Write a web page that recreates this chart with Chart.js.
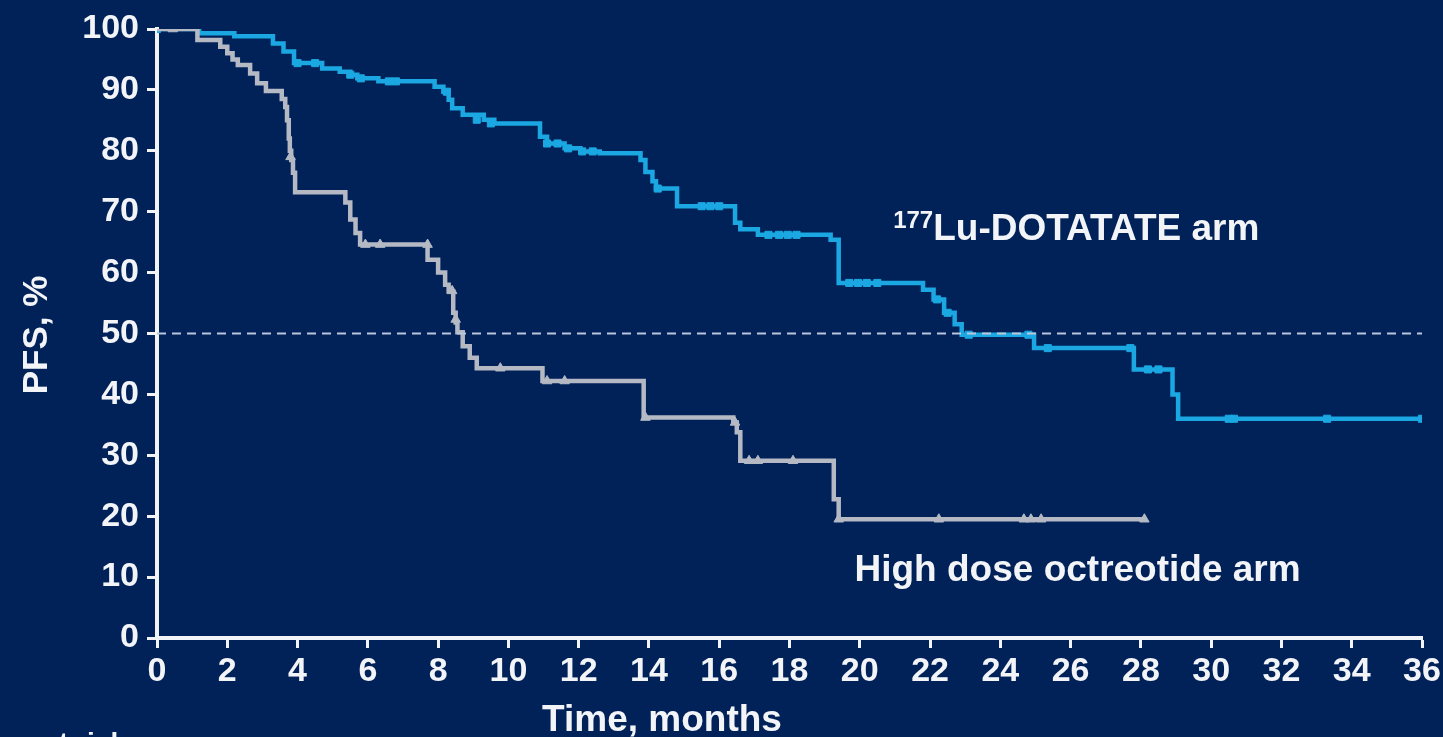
<!DOCTYPE html>
<html>
<head>
<meta charset="utf-8">
<title>PFS Kaplan-Meier</title>
<script src="https://cdn.jsdelivr.net/npm/chart.js@4.4.1/dist/chart.umd.min.js"></script>
<style>
  html, body { margin: 0; padding: 0; background: #012159; overflow: hidden; }
  #wrap { position: relative; width: 1443px; height: 737px; }
</style>
</head>
<body>
<div id="wrap"><canvas id="pfsChart" width="1443" height="737"></canvas></div>
<script>
// 177Lu-DOTATATE 组 (月, PFS %)
const luTimes = [0, 1.2, 2.2, 3.3, 3.6, 3.9, 4.7, 5.2, 5.5, 5.7, 6.3, 7.9, 8.15, 8.3, 8.4, 8.7, 9.3, 9.6,
  10.9, 11.1, 11.6, 12.05, 12.6, 13.76, 13.9, 14.1, 14.2, 14.8, 16.45, 16.6, 17.1, 19.17, 19.4,
  21.8, 22.1, 22.4, 22.7, 22.9, 24.96, 27.8, 28.9, 29.06, 36];
const luSurv = [100, 99.3, 98.8, 97.6, 96.3, 94.4, 93.5, 93.0, 92.5, 91.9, 91.4, 90.5, 89.7, 88.4, 87.0, 85.9, 85.1, 84.5,
  82.3, 81.2, 80.4, 79.9, 79.6, 78.5, 76.5, 75.0, 73.8, 70.9, 68.2, 67.1, 66.2, 65.4, 58.3,
  57.2, 55.6, 53.4, 51.5, 49.8, 47.6, 44.1, 40.0, 36.0, 36.0];
const luCensorTimes = [0, 4.0, 4.5, 5.5, 5.8, 6.6, 6.8, 8.25, 9.1, 9.5, 11.1, 11.4, 11.7, 12.1, 12.4,
  14.25, 15.5, 15.75, 16.0, 17.4, 17.7, 17.95, 18.2, 19.7, 19.95, 20.2, 20.5, 22.2, 22.5, 23.1,
  24.8, 25.35, 27.7, 28.2, 28.5, 30.5, 30.65, 33.3, 36.0];
const luCensorSurv = [100, 94.4, 94.4, 92.5, 91.9, 91.4, 91.4, 89.7, 85.1, 84.5, 81.2, 81.2, 80.4, 79.9, 79.9,
  73.8, 70.9, 70.9, 70.9, 66.2, 66.2, 66.2, 66.2, 58.3, 58.3, 58.3, 58.3, 55.6, 53.4, 49.8,
  49.8, 47.6, 47.6, 44.1, 44.1, 36.0, 36.0, 36.0, 36.0];

// 高剂量奥曲肽组
const octTimes = [0, 1.15, 1.8, 2.0, 2.15, 2.3, 2.65, 2.85, 3.1, 3.55, 3.65, 3.7, 3.75, 3.78, 3.82, 3.87, 3.93,
  5.36, 5.5, 5.65, 5.78, 7.7, 8.0, 8.2, 8.3, 8.43, 8.5, 8.55, 8.7, 8.9, 9.1, 10.97, 13.85,
  16.4, 16.5, 16.6, 19.26, 19.4, 28.1];
const octSurv = [100, 98.2, 97.1, 96.0, 95.0, 94.1, 92.7, 91.1, 89.8, 88.5, 87.2, 85.0, 82.0, 80.0, 78.5, 76.4, 73.2,
  71.5, 68.7, 66.5, 64.6, 62.1, 60.0, 58.0, 56.9, 53.4, 51.8, 50.2, 47.9, 46.0, 44.3, 42.2, 36.2,
  35.4, 33.8, 29.1, 22.8, 19.5, 19.5];
const octCensorTimes = [0.45, 3.8, 5.93, 6.35, 7.7, 8.4, 8.5, 9.77, 11.1, 11.6, 13.9, 16.45, 16.85, 17.1, 18.1,
  19.4, 22.25, 24.67, 24.87, 25.16, 28.1];
const octCensorSurv = [100, 79.0, 64.6, 64.6, 64.6, 57.0, 52.3, 44.3, 42.2, 42.2, 36.2, 35.4, 29.1, 29.1, 29.1,
  19.5, 19.5, 19.5, 19.5, 19.5, 19.5];

// 坐标轴刻度
const xTicks = [0, 2, 4, 6, 8, 10, 12, 14, 16, 18, 20, 22, 24, 26, 28, 30, 32, 34, 36];
const yTicks = [0, 10, 20, 30, 40, 50, 60, 70, 80, 90, 100];
const medianLine = 50;

const BG = '#012159';
const LU_BLUE = '#1ba8e2';
const OCT_GRAY = '#b4b9c4';
const AXIS_WHITE = '#f2f4f7';
const FONT = '"Liberation Sans", Arial, sans-serif';

const toPoints = (xs, ys) => xs.map((x, i) => ({ x: x, y: ys[i] }));

// 背景 + 文字标注
const decorPlugin = {
  id: 'decor',
  beforeDraw(chart) {
    const ctx = chart.ctx;
    ctx.save();
    ctx.fillStyle = BG;
    ctx.fillRect(0, 0, chart.width, chart.height);
    ctx.restore();
  },
  afterDraw(chart) {
    const ctx = chart.ctx;
    const xs = chart.scales.x, ys = chart.scales.y;
    ctx.save();
    ctx.fillStyle = AXIS_WHITE;
    ctx.textBaseline = 'alphabetic';

    // y 轴标题
    ctx.save();
    ctx.translate(47, 335);
    ctx.rotate(-Math.PI / 2);
    ctx.textAlign = 'center';
    ctx.font = 'bold 35px ' + FONT;
    ctx.fillText('PFS, %', 0, 0);
    ctx.restore();

    // x 轴标题
    ctx.textAlign = 'center';
    ctx.font = 'bold 37px ' + FONT;
    ctx.fillText('Time, months', 662, 731);

    // 曲线标签
    ctx.textAlign = 'left';
    let lx = xs.getPixelForValue(20.95);
    let ly = ys.getPixelForValue(65.3);
    ctx.font = 'bold 24px ' + FONT;
    ctx.fillText('177', lx, ly - 12);
    lx += ctx.measureText('177').width;
    ctx.font = 'bold 37px ' + FONT;
    ctx.fillText('Lu-DOTATATE arm', lx, ly);

    ctx.font = 'bold 37px ' + FONT;
    ctx.fillText('High dose octreotide arm', xs.getPixelForValue(19.85), ys.getPixelForValue(9.4));

    // 下方被裁掉的 "Number at risk"
    ctx.textAlign = 'right';
    ctx.textBaseline = 'top';
    ctx.font = 'bold 28px ' + FONT;
    ctx.fillText('Number at risk', 126, 730);
    ctx.restore();
  }
};

const axisCommon = {
  type: 'linear',
  grid: {
    drawOnChartArea: false,
    drawTicks: true,
    tickLength: 10,
    tickColor: AXIS_WHITE,
    tickWidth: 3
  },
  border: { display: true, color: AXIS_WHITE, width: 4 },
  ticks: {
    color: AXIS_WHITE,
    font: { family: FONT, size: 34, weight: 'bold' }
  }
};

new Chart(document.getElementById('pfsChart'), {
  type: 'line',
  data: {
    datasets: [
      {
        label: 'median',
        data: [{ x: xTicks[0], y: medianLine }, { x: xTicks[xTicks.length - 1], y: medianLine }],
        borderColor: '#bcc6da',
        borderWidth: 2,
        borderDash: [9, 6],
        pointRadius: 0
      },
      {
        label: 'High dose octreotide arm',
        data: toPoints(octTimes, octSurv),
        stepped: 'before',
        borderColor: OCT_GRAY,
        borderWidth: 4.5,
        pointRadius: 0
      },
      {
        label: 'oct censored',
        data: toPoints(octCensorTimes, octCensorSurv),
        showLine: false,
        pointStyle: 'triangle',
        pointRadius: 5.5,
        backgroundColor: OCT_GRAY,
        borderColor: OCT_GRAY
      },
      {
        label: '177Lu-DOTATATE arm',
        data: toPoints(luTimes, luSurv),
        stepped: 'before',
        borderColor: LU_BLUE,
        borderWidth: 4.5,
        pointRadius: 0
      },
      {
        label: 'lu censored',
        data: toPoints(luCensorTimes, luCensorSurv),
        showLine: false,
        pointStyle: 'rect',
        pointRadius: 5,
        backgroundColor: LU_BLUE,
        borderColor: LU_BLUE
      }
    ]
  },
  options: {
    responsive: false,
    animation: false,
    layout: { padding: { top: 29, right: 21, left: 0, bottom: 0 } },
    plugins: {
      legend: { display: false },
      tooltip: { enabled: false }
    },
    scales: {
      x: {
        ...axisCommon,
        min: 0,
        max: 36,
        afterFit: (scale) => {
          scale.height = 99;
          scale.paddingLeft = 0;
          scale.paddingRight = 0;
        },
        afterBuildTicks: (scale) => { scale.ticks = xTicks.map(v => ({ value: v })); },
        ticks: { ...axisCommon.ticks, padding: 3, maxRotation: 0, autoSkip: false }
      },
      y: {
        ...axisCommon,
        min: 0,
        max: 100,
        afterFit: (scale) => {
          scale.width = 157;
          scale.paddingTop = 0;
          scale.paddingBottom = 0;
        },
        afterBuildTicks: (scale) => { scale.ticks = yTicks.map(v => ({ value: v })); },
        ticks: { ...axisCommon.ticks, padding: 8 }
      }
    }
  },
  plugins: [decorPlugin]
});
</script>
</body>
</html>
